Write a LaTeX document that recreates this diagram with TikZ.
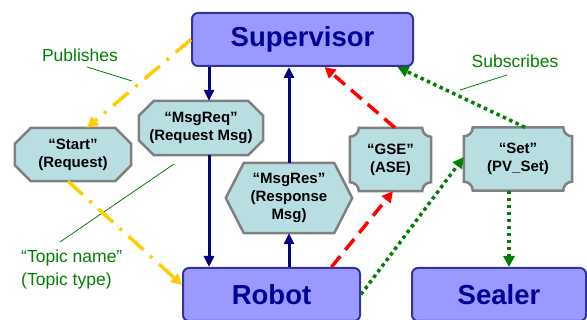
\documentclass[tikz,border=0pt]{standalone}
\usepackage{fontspec}
\setmainfont{Liberation Sans}
\usetikzlibrary{arrows.meta,calc}
\pgfdeclarelayer{background}
\pgfsetlayers{background,main}
\definecolor{boxfill}{RGB}{153,153,255}
\definecolor{boxline}{RGB}{51,51,153}
\definecolor{boxtext}{RGB}{0,0,153}
\definecolor{topicfill}{RGB}{185,222,226}
\definecolor{topicline}{RGB}{128,128,128}
\definecolor{navyline}{RGB}{0,0,128}
\definecolor{pubyellow}{RGB}{255,204,0}
\definecolor{subgreen}{RGB}{0,128,0}
\definecolor{labelgreen}{RGB}{0,128,0}

% octagon (chamfered corners) around a node: #1 name, #2 chamfer
\newcommand{\chamfbox}[2]{%
  \draw[topicshape] ([xshift=#2]#1.north west) -- ([xshift=-#2]#1.north east)
    -- ([yshift=-#2]#1.north east) -- ([yshift=#2]#1.south east)
    -- ([xshift=-#2]#1.south east) -- ([xshift=#2]#1.south west)
    -- ([yshift=#2]#1.south west) -- ([yshift=-#2]#1.north west) -- cycle;}
% rectangle with concave rounded corners: #1 name, #2 radius
\newcommand{\concbox}[2]{%
  \draw[topicshape] ([xshift=#2]#1.north west) -- ([xshift=-#2]#1.north east)
    arc[start angle=180,end angle=270,radius=#2]
    -- ([yshift=#2]#1.south east)
    arc[start angle=90,end angle=180,radius=#2]
    -- ([xshift=#2]#1.south west)
    arc[start angle=0,end angle=90,radius=#2]
    -- ([yshift=-#2]#1.north west)
    arc[start angle=270,end angle=360,radius=#2] -- cycle;}

\begin{document}
\begin{tikzpicture}[x=1pt,y=-1pt,
  boxnode/.style={draw=boxline, fill=boxfill, line width=2pt, rounded corners=6pt,
    text=boxtext, font=\fontsize{27.5}{30}\selectfont\bfseries, inner sep=0pt},
  topicnode/.style={draw=none, inner sep=0pt, align=center,
    font=\fontsize{15}{18}\selectfont\bfseries},
  topicshape/.style={draw=topicline, fill=topicfill, line width=2.5pt},
  navyarrow/.style={draw=navyline, line width=3pt, -{Triangle[length=11pt,width=10pt]}},
  gsearrow/.style={draw=red, line width=3.5pt, dash pattern=on 14pt off 8pt,
    -{Triangle[length=11pt,width=11pt]}},
  subarrow/.style={draw=subgreen, line width=3.5pt, dash pattern=on 3.5pt off 3.5pt,
    -{Triangle[length=11pt,width=11pt]}},
  pubarrow/.style={draw=pubyellow, line width=3.5pt,
    dash pattern=on 20pt off 9pt on 3pt off 9pt, -{Triangle[length=11pt,width=11pt]}},
  greenlabel/.style={text=labelgreen, font=\fontsize{17.5}{23}\selectfont, inner sep=0pt},
  leader/.style={draw=labelgreen, line width=0.8pt}]

\useasboundingbox (0,0) rectangle (587,320);
\clip (0,0) rectangle (587,320);

% main boxes
\node[boxnode, minimum width=221pt, minimum height=53pt] (sup) at (302.5,39.5) {Supervisor};
\node[boxnode, minimum width=177pt, minimum height=53pt] (robot) at (271.5,294.5) {Robot};
\node[boxnode, minimum width=174pt, minimum height=53pt] (sealer) at (499,294.5) {Sealer};

% topic nodes
\node[topicnode, minimum width=116pt, minimum height=53pt] (start) at (73,154.5) {“Start”\\(Request)};
\node[topicnode, minimum width=124pt, minimum height=54pt] (msgreq) at (201,128) {“MsgReq”\\(Request Msg)};
\node[topicnode, minimum width=90pt, minimum height=70pt] (msgres) at (289,198) {“MsgRes”\\(Response\\Msg)};
\node[topicnode, minimum width=81pt, minimum height=63pt] (gse) at (390.5,159.5) {“GSE”\\(ASE)};
\node[topicnode, minimum width=108pt, minimum height=63pt] (set) at (518,159) {“Set”\\(PV\_Set)};

\begin{pgfonlayer}{background}
  \chamfbox{start}{16pt}
  \chamfbox{msgreq}{15pt}
  \draw[topicshape] (msgres.north west) -- (msgres.north east)
    -- ([xshift=18pt]msgres.east) -- (msgres.south east)
    -- (msgres.south west) -- ([xshift=-18pt]msgres.west) -- cycle;
  \concbox{gse}{9pt}
  \concbox{set}{9pt}
\end{pgfonlayer}

% labels
\node[greenlabel] (pub) at (80,55) {Publishes};
\node[greenlabel] (sub) at (515,61) {Subscribes};
\node[greenlabel, align=left, anchor=west] (topic) at (21,269.5) {“Topic name”\\(Topic type)};
\coordinate (pubA) at (87,67);
\coordinate (pubB) at (132,81);
\coordinate (subA) at (507,75);
\coordinate (subB) at (460,90);
\coordinate (topA) at (60,242);
\coordinate (topB) at (174,164);
\draw[leader] (pubA) -- (pubB);
\draw[leader] (subA) -- (subB);
\draw[leader] (topA) -- (topB);

% navy request/response arrows
\draw[navyarrow] ([xshift=8pt]msgreq.north |- sup.south) -- ([xshift=8pt]msgreq.north);
\draw[navyarrow] ([xshift=8pt]msgreq.south) -- ([xshift=8pt]msgreq.south |- robot.north);
\draw[navyarrow] (msgres.south |- robot.north) -- (msgres.south);
\draw[navyarrow] (msgres.north) -- (msgres.north |- sup.south);

% red dashed
\draw[gsearrow] ([xshift=60pt]robot.north) -- ([xshift=2.5pt]gse.south);
\draw[gsearrow] ([xshift=4.5pt]gse.north) -- ([xshift=22pt]sup.south);

% green dotted
\draw[subarrow] ([xshift=7pt]set.north) -- ([xshift=95pt]sup.south);
\draw[subarrow] (robot.east) -- ([yshift=2pt]set.west);
\draw[subarrow] ([xshift=-9pt]set.south) -- ([xshift=-9pt]set.south |- sealer.north);

% yellow dash-dot
\draw[pubarrow] (sup.west) -- ([xshift=14pt]start.north);
\draw[pubarrow] ([xshift=-5pt]start.south) -- ([yshift=9.5pt]robot.west);
\end{tikzpicture}
\end{document}
